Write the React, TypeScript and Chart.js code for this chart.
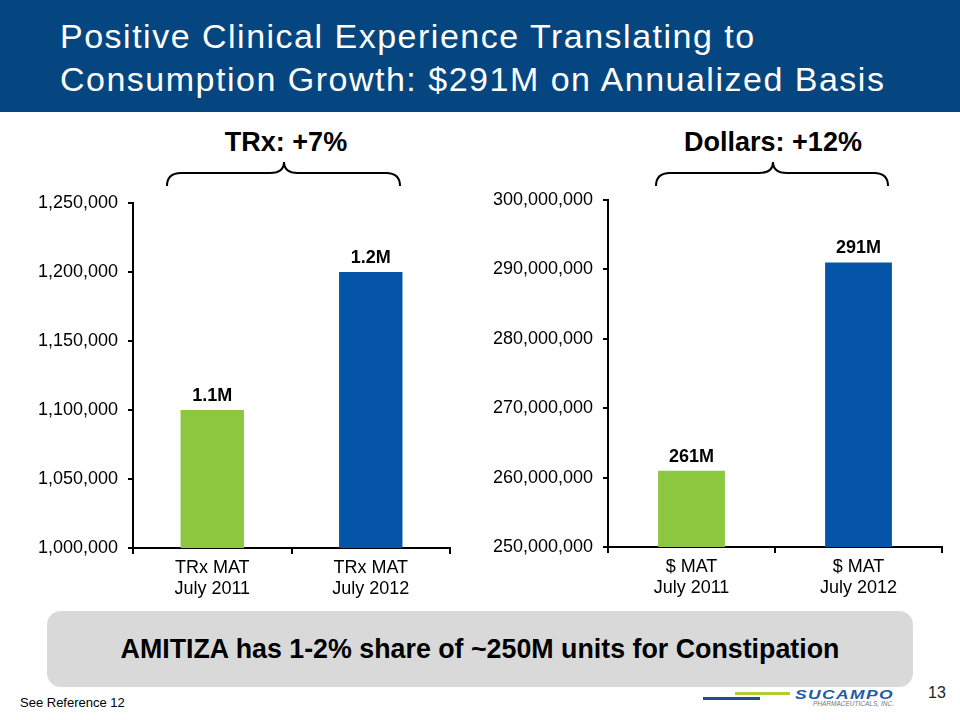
import React, { useEffect, useRef } from 'react';
import { Chart, registerables } from 'chart.js';

Chart.register(...registerables);

const FONT = '"Liberation Sans", Arial, Helvetica, sans-serif';

// ---- Data ----
const trxCategories = [['TRx MAT', 'July 2011'], ['TRx MAT', 'July 2012']];
const trxValues = [1100000, 1200000];
const trxValueLabels = ['1.1M', '1.2M'];
const trxAxisMin = 1000000;
const trxAxisMax = 1250000;
const trxAxisStep = 50000;

const dollarCategories = [['$ MAT', 'July 2011'], ['$ MAT', 'July 2012']];
const dollarValues = [261000000, 291000000];
const dollarValueLabels = ['261M', '291M'];
const dollarAxisMin = 250000000;
const dollarAxisMax = 300000000;
const dollarAxisStep = 10000000;

const barColors = ['#8DC63F', '#0455A8'];

const valueLabelPlugin = {
  id: 'valueLabels',
  afterDatasetsDraw(chart: any, _args: any, opts: any) {
    const { ctx } = chart;
    const meta = chart.getDatasetMeta(0);
    ctx.save();
    ctx.font = `bold 18px ${FONT}`;
    ctx.fillStyle = '#000';
    ctx.textAlign = 'center';
    ctx.textBaseline = 'alphabetic';
    meta.data.forEach((bar: any, i: number) => {
      ctx.fillText(opts.labels[i], bar.x, bar.y - 9);
    });
    ctx.restore();
  },
};

type BarProps = {
  categories: string[][];
  values: number[];
  valueLabels: string[];
  min: number;
  max: number;
  step: number;
  left: number;
  top: number;
  width: number;
  height: number;
  yWidth: number;
  xHeight: number;
  padTop: number;
  padRight: number;
};

function BarChart(p: BarProps) {
  const ref = useRef<HTMLCanvasElement>(null);
  useEffect(() => {
    if (!ref.current) return;
    const chart = new Chart(ref.current, {
      type: 'bar',
      data: {
        labels: p.categories,
        datasets: [
          {
            data: p.values,
            backgroundColor: barColors,
            borderWidth: 0,
            barPercentage: 0.4,
            categoryPercentage: 1,
          },
        ],
      },
      options: {
        responsive: false,
        animation: false,
        devicePixelRatio: 1,
        layout: { padding: { top: p.padTop, right: p.padRight, left: 0, bottom: 0 } },
        plugins: {
          legend: { display: false },
          tooltip: { enabled: false },
          valueLabels: { labels: p.valueLabels },
        } as any,
        scales: {
          x: {
            grid: {
              display: true,
              drawOnChartArea: false,
              drawTicks: true,
              tickLength: 6,
              color: '#000',
              lineWidth: 2,
              offset: true,
            },
            border: { display: true, color: '#000', width: 2 },
            ticks: {
              color: '#000',
              font: { family: FONT, size: 18, lineHeight: 1.15 },
              padding: 4,
              maxRotation: 0,
              autoSkip: false,
            },
            afterFit: (s: any) => {
              s.height = p.xHeight;
              s.paddingLeft = 0;
              s.paddingRight = 0;
            },
          },
          y: {
            min: p.min,
            max: p.max,
            grid: {
              display: true,
              drawOnChartArea: false,
              drawTicks: true,
              tickLength: 5,
              color: '#000',
              lineWidth: 2,
            },
            border: { display: true, color: '#000', width: 2 },
            ticks: {
              stepSize: p.step,
              color: '#000',
              font: { family: FONT, size: 18 },
              padding: 10,
              callback: (v: any) => Number(v).toLocaleString('en-US'),
            },
            afterFit: (s: any) => {
              s.width = p.yWidth;
              s.paddingTop = 0;
              s.paddingBottom = 0;
            },
          },
        },
      },
      plugins: [valueLabelPlugin],
    });
    return () => chart.destroy();
  }, []);
  return (
    <canvas
      ref={ref}
      width={p.width}
      height={p.height}
      style={{ position: 'absolute', left: p.left, top: p.top, width: p.width, height: p.height }}
    />
  );
}

function Brace({ x1, x2, xm }: { x1: number; x2: number; xm: number }) {
  const yTop = 162;
  const yMid = 173;
  const yEnd = 186;
  const d = `M${x1},${yEnd} Q${x1},${yMid} ${x1 + 14},${yMid} L${xm - 14},${yMid} Q${xm},${yMid} ${xm},${yTop} Q${xm},${yMid} ${xm + 14},${yMid} L${x2 - 14},${yMid} Q${x2},${yMid} ${x2},${yEnd}`;
  return <path d={d} fill="none" stroke="#000" strokeWidth={2} />;
}

export default function App() {
  return (
    <div
      style={{
        position: 'absolute',
        left: 0,
        top: 0,
        width: 960,
        height: 720,
        background: '#fff',
        overflow: 'hidden',
        fontFamily: FONT,
      }}
    >
      <div style={{ position: 'absolute', left: 0, top: 0, width: 960, height: 112, background: '#064680' }} />
      <div
        style={{
          position: 'absolute',
          left: 60,
          top: 15,
          color: '#fff',
          fontSize: 34,
          lineHeight: '43px',
          letterSpacing: 1.5,
          whiteSpace: 'nowrap',
        }}
      >
        Positive Clinical Experience Translating to
        <br />
        Consumption Growth: $291M on Annualized Basis
      </div>

      <div
        style={{
          position: 'absolute',
          left: 186,
          width: 200,
          top: 126,
          textAlign: 'center',
          fontWeight: 'bold',
          fontSize: 27,
          lineHeight: '32px',
        }}
      >
        TRx: +7%
      </div>
      <div
        style={{
          position: 'absolute',
          left: 623,
          width: 300,
          top: 126,
          textAlign: 'center',
          fontWeight: 'bold',
          fontSize: 27,
          lineHeight: '32px',
        }}
      >
        Dollars: +12%
      </div>

      <svg style={{ position: 'absolute', left: 0, top: 0 }} width={960} height={720}>
        <Brace x1={167} x2={400} xm={284} />
        <Brace x1={656} x2={888} xm={773} />
      </svg>

      <BarChart
        categories={trxCategories}
        values={trxValues}
        valueLabels={trxValueLabels}
        min={trxAxisMin}
        max={trxAxisMax}
        step={trxAxisStep}
        left={0}
        top={190}
        width={480}
        height={420}
        yWidth={133}
        xHeight={62}
        padTop={13}
        padRight={30}
      />
      <BarChart
        categories={dollarCategories}
        values={dollarValues}
        valueLabels={dollarValueLabels}
        min={dollarAxisMin}
        max={dollarAxisMax}
        step={dollarAxisStep}
        left={480}
        top={190}
        width={480}
        height={420}
        yWidth={128}
        xHeight={63}
        padTop={10}
        padRight={18}
      />

      <div
        style={{
          position: 'absolute',
          left: 47,
          top: 611,
          width: 866,
          height: 76,
          background: '#D9D9D9',
          borderRadius: 14,
          display: 'flex',
          alignItems: 'center',
          justifyContent: 'center',
          fontWeight: 'bold',
          fontSize: 26.8,
          color: '#000',
        }}
      >
        AMITIZA has 1-2% share of ~250M units for Constipation
      </div>

      <div style={{ position: 'absolute', left: 20, top: 695, fontSize: 13, color: '#000' }}>See Reference 12</div>
      <div style={{ position: 'absolute', left: 928, top: 684, fontSize: 16, color: '#222' }}>13</div>

      <div style={{ position: 'absolute', left: 703, top: 697, width: 57, height: 3, background: '#1D4F8E' }} />
      <div style={{ position: 'absolute', left: 735, top: 692, width: 55, height: 3, background: '#B8CB33' }} />
      <div
        style={{
          position: 'absolute',
          left: 795,
          top: 688,
          fontSize: 12,
          lineHeight: '14px',
          fontStyle: 'italic',
          fontWeight: 'bold',
          letterSpacing: 1,
          transform: 'scaleX(1.45)',
          transformOrigin: 'left center',
          color: '#1E5BA8',
          whiteSpace: 'nowrap',
        }}
      >
        SUCAMPO
      </div>
      <div
        style={{
          position: 'absolute',
          left: 813,
          top: 700,
          fontSize: 6.5,
          lineHeight: '8px',
          fontStyle: 'italic',
          color: '#777',
          whiteSpace: 'nowrap',
        }}
      >
        PHARMACEUTICALS, INC.
      </div>
    </div>
  );
}
